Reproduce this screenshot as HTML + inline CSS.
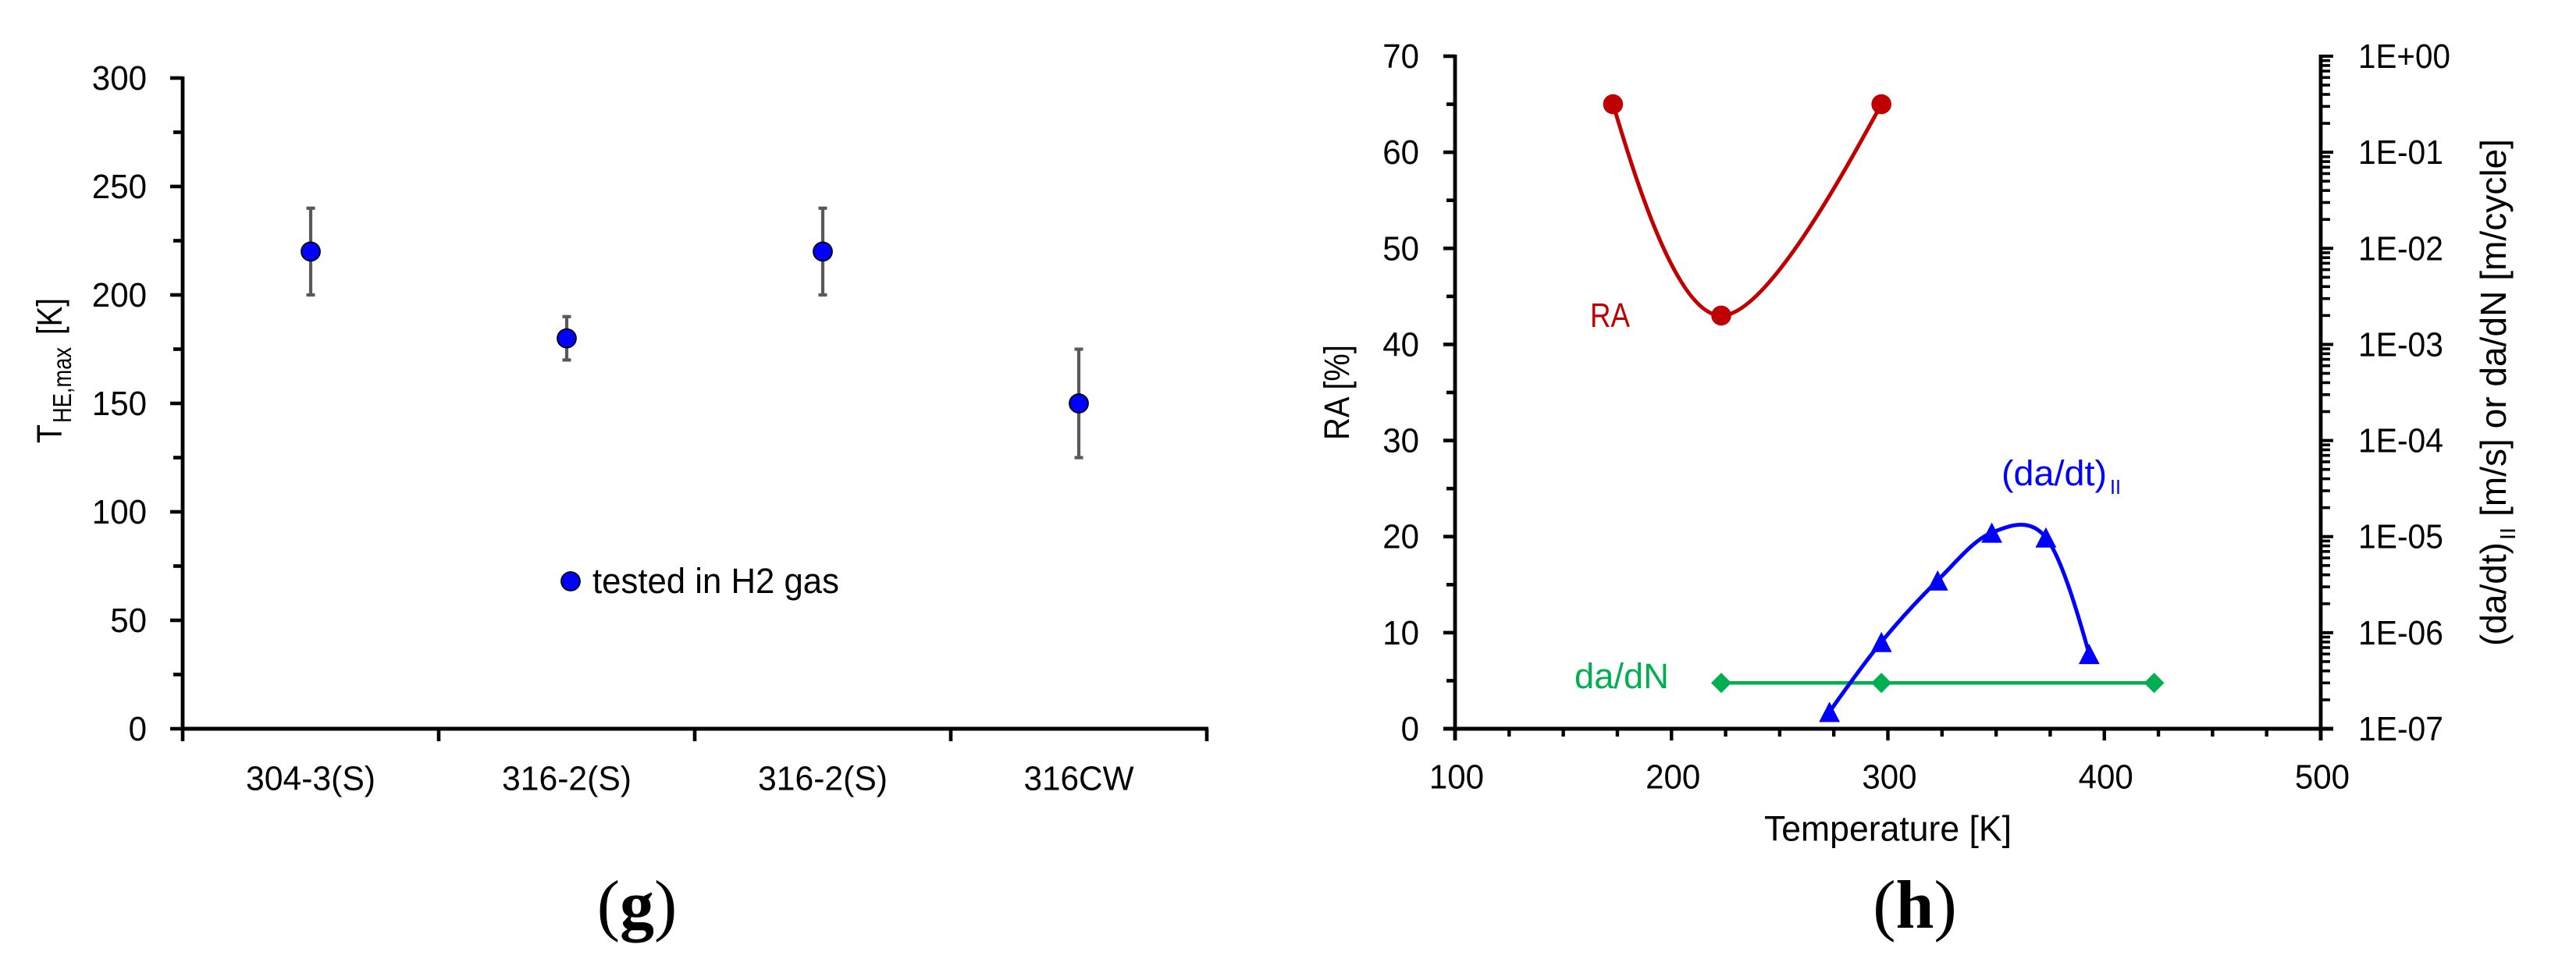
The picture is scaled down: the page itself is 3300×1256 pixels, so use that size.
<!DOCTYPE html>
<html lang="en">
<head>
<meta charset="utf-8">
<title>Panels g and h</title>
<style>
html,body{margin:0;padding:0;background:#fff;}
svg{display:block;font-family:"Liberation Sans",sans-serif;}
</style>
</head>
<body>
<svg id="fig" xmlns="http://www.w3.org/2000/svg" width="3300" height="1256" viewBox="0 0 3300 1256">
<rect x="0" y="0" width="3300" height="1256" fill="#ffffff"/>
<g id="panel-g"></g>
<g id="panel-h"></g>
<text x="816" y="1189" text-anchor="middle" font-family="'Liberation Serif',serif" font-size="88">(<tspan font-weight="bold">g</tspan>)</text>
<text x="2453" y="1189" text-anchor="middle" font-family="'Liberation Serif',serif" font-size="88">(<tspan font-weight="bold">h</tspan>)</text>
</svg>
<script>
/* Panel g data */
const gCategories = ['304-3(S)', '316-2(S)', '316-2(S)', '316CW'];
const gValues = [220, 180, 220, 150];
const gErrLow = [200, 170, 200, 125];
const gErrHigh = [240, 190, 240, 175];
const gYTicks = [0, 50, 100, 150, 200, 250, 300];
const gYMinorTicks = [25, 75, 125, 175, 225, 275];

/* Panel h data */
const hXTicks = [100, 200, 300, 400, 500];
const hXMinorTicks = [125, 150, 175, 225, 250, 275, 325, 350, 375, 425, 450, 475];
const hYTicks = [0, 10, 20, 30, 40, 50, 60, 70];
const hYMinorTicks = [5, 15, 25, 35, 45, 55, 65];
const hLogExponents = [0, -1, -2, -3, -4, -5, -6, -7];
const hLogLabels = ['1E+00', '1E-01', '1E-02', '1E-03', '1E-04', '1E-05', '1E-06', '1E-07'];
const hLogMinorMultipliers = [2, 3, 4, 5, 6, 7, 8, 9];
const raTemps = [173, 223, 297];
const raValues = [65, 43, 65];
const rateTemps = [273, 297, 323, 348, 373, 393];
const rateValues = [1.5e-7, 8e-7, 3.5e-6, 1.1e-5, 9.8e-6, 6e-7];
const dadnTemps = [223, 297, 423];
const dadnValues = [3e-7, 3e-7, 3e-7];

const NS = 'http://www.w3.org/2000/svg';
const panelG = document.getElementById('panel-g');
const panelH = document.getElementById('panel-h');
const DIGIT_W = 23.4;

function add(parent, tag, name, attrs) {
  const el = document.createElementNS(NS, tag);
  
  
  for (const k in attrs) el.setAttribute(k, attrs[k]);
  parent.appendChild(el);
  return el;
}
function seg(parent, name, x1, y1, x2, y2, color, w) {
  return add(parent, 'line', name, {x1: x1, y1: y1, x2: x2, y2: y2, stroke: color, 'stroke-width': w});
}
function label(parent, name, str, x, y, size, opts) {
  const o = opts || {};
  const a = {x: x, y: y, 'font-size': size, fill: o.fill || '#000', 'text-anchor': o.anchor || 'start'};
  if (o.length) { a.textLength = o.length; a.lengthAdjust = 'spacingAndGlyphs'; }
  if (o.rotate) a.transform = 'rotate(-90 ' + x + ' ' + y + ')';
  const el = add(parent, 'text', name, a);
  el.textContent = str;
  return el;
}
/* Excel-style smoothed line through pixel points */
function smoothPath(pts) {
  const n = pts.length;
  const tan = pts.map((p, i) => {
    if (i === 0 || i === n - 1) return null;
    return [(pts[i + 1][0] - pts[i - 1][0]) / 6, (pts[i + 1][1] - pts[i - 1][1]) / 6];
  });
  let d = 'M' + pts[0][0] + ' ' + pts[0][1];
  for (let i = 0; i < n - 1; i++) {
    const p = pts[i], q = pts[i + 1];
    let c1 = tan[i] ? [p[0] + tan[i][0], p[1] + tan[i][1]] : null;
    let c2 = tan[i + 1] ? [q[0] - tan[i + 1][0], q[1] - tan[i + 1][1]] : null;
    if (!c1 && c2) c1 = [p[0] + (c2[0] - p[0]) / 3, p[1] + (c2[1] - p[1]) / 3];
    if (!c2 && c1) c2 = [q[0] + (c1[0] - q[0]) / 3, q[1] + (c1[1] - q[1]) / 3];
    if (!c1 && !c2) { c1 = p; c2 = q; }
    d += ' C' + c1[0] + ' ' + c1[1] + ' ' + c2[0] + ' ' + c2[1] + ' ' + q[0] + ' ' + q[1];
  }
  return d;
}

/* ---------- Panel g ---------- */
const gLeft = 234, gBand = 328, gBase = 934, gUnit = 834 / 300;
const gX = i => gLeft + gBand * (i + 0.5);
const gXEdge = i => gLeft + gBand * i;
const gY = v => gBase - v * gUnit;

gYMinorTicks.forEach(v => seg(panelG, 'y-minor-tick', 222, gY(v), gLeft, gY(v), '#000', 4.6));
gYTicks.forEach(v => {
  seg(panelG, 'y-major-tick', 218, gY(v), gLeft, gY(v), '#000', 4.6);
  label(panelG, 'y-tick-label', String(v), 188, gY(v) + 15, 44, {anchor: 'end', length: String(v).length * DIGIT_W});
});
gCategories.forEach((c, i) => {
  seg(panelG, 'x-tick', gXEdge(i), gBase, gXEdge(i), 950, '#000', 4.6);
  label(panelG, 'x-category-label', c, gX(i), 1012.5, 44, {anchor: 'middle', length: c.length === 5 ? 141 : 166});
});
seg(panelG, 'x-tick', gXEdge(gCategories.length), gBase, gXEdge(gCategories.length), 950, '#000', 4.6);
seg(panelG, 'y-axis', gLeft, gY(300) - 2, gLeft, gBase + 2, '#000', 4.8);
seg(panelG, 'x-axis', gLeft, gBase, gXEdge(gCategories.length) + 2, gBase, '#000', 5);

gValues.forEach((v, i) => {
  const x = gX(i);
  seg(panelG, 'error-bar', x, gY(gErrLow[i]), x, gY(gErrHigh[i]), '#595959', 4.2);
  seg(panelG, 'error-cap-low', x - 5.5, gY(gErrLow[i]), x + 5.5, gY(gErrLow[i]), '#595959', 4.2);
  seg(panelG, 'error-cap-high', x - 5.5, gY(gErrHigh[i]), x + 5.5, gY(gErrHigh[i]), '#595959', 4.2);
});
gValues.forEach((v, i) => {
  add(panelG, 'circle', 'point-' + (i + 1), {cx: gX(i), cy: gY(v), r: 12, fill: '#0000FF', stroke: '#000', 'stroke-width': 1.8});
});

add(panelG, 'circle', 'legend-marker', {cx: 731, cy: 745, r: 12, fill: '#0000FF', stroke: '#000', 'stroke-width': 1.8});
label(panelG, 'legend-label', 'tested in H2 gas', 759, 760, 45, {length: 316});

label(panelG, 'y-axis-title-t', 'T', 79, 568, 45, {rotate: true, length: 24});
label(panelG, 'y-axis-title-subscript', 'HE,max', 91, 542, 33, {rotate: true, length: 97});
label(panelG, 'y-axis-title-unit', '[K]', 79, 429, 45, {rotate: true, length: 47});

/* ---------- Panel h ---------- */
const hLeft = 1864, hRight = 2973, hBase = 934, hTop = 72;
const hX = t => hLeft + (t - 100) * (hRight - hLeft) / 400;
const hY = v => hBase - v * (hBase - hTop) / 70;
const hLogY = v => hBase - (Math.log10(v) + 7) * (hBase - hTop) / 7;

hYMinorTicks.forEach(v => seg(panelH, 'left-y-minor-tick', 1853, hY(v), hLeft, hY(v), '#000', 4.6));
hYTicks.forEach(v => {
  seg(panelH, 'left-y-major-tick', 1849, hY(v), hLeft, hY(v), '#000', 4.6);
  label(panelH, 'left-y-tick-label', String(v), 1818, hY(v) + 15, 44, {anchor: 'end', length: String(v).length * DIGIT_W});
});
hXMinorTicks.forEach(t => seg(panelH, 'x-minor-tick', hX(t), hBase, hX(t), 944, '#000', 4.4));
hXTicks.forEach(t => {
  seg(panelH, 'x-major-tick', hX(t), hBase, hX(t), 949, '#000', 4.4);
  label(panelH, 'x-tick-label', String(t), hX(t) + 2, 1010.5, 44, {anchor: 'middle', length: String(t).length * DIGIT_W});
});
hLogExponents.forEach((e, i) => {
  const base = Math.pow(10, e);
  seg(panelH, 'right-y-major-tick', hRight, hLogY(base), 2989, hLogY(base), '#000', 4);
  label(panelH, 'right-y-tick-label', hLogLabels[i], 3021, hLogY(base) + 15, 44, {length: e === 0 ? 118 : 109});
  if (e > -7 ) {
    hLogMinorMultipliers.forEach(m => {
      const y = hLogY(base / 10 * m);
      seg(panelH, 'right-y-minor-tick', hRight, y, 2985, y, '#000', 3.6);
    });
  }
});
seg(panelH, 'left-y-axis', hLeft, hTop - 2, hLeft, 949, '#000', 4.8);
seg(panelH, 'right-y-axis', hRight, hTop - 2, hRight, 949, '#000', 4.8);
seg(panelH, 'x-axis', 1849, hBase, 2989, hBase, '#000', 5);

/* da/dN series */
const dadnPts = dadnTemps.map((t, i) => [hX(t), hLogY(dadnValues[i])]);
add(panelH, 'path', 'dadn-line', {d: smoothPath(dadnPts), fill: 'none', stroke: '#00B050', 'stroke-width': 4.6});
dadnPts.forEach(p => {
  add(panelH, 'polygon', 'dadn-point', {points: [[p[0] - 13, p[1]], [p[0], p[1] - 13], [p[0] + 13, p[1]], [p[0], p[1] + 13]].join(' '), fill: '#00B050'});
});

/* da/dt series */
const ratePts = rateTemps.map((t, i) => [hX(t), hLogY(rateValues[i])]);
add(panelH, 'path', 'dadt-line', {d: smoothPath(ratePts), fill: 'none', stroke: '#0000FF', 'stroke-width': 5});
ratePts.forEach(p => {
  add(panelH, 'polygon', 'dadt-point', {points: [[p[0] - 13.4, p[1] + 13], [p[0], p[1] - 13], [p[0] + 13.4, p[1] + 13]].join(' '), fill: '#0000FF'});
});

/* RA series */
const raPts = raTemps.map((t, i) => [hX(t), hY(raValues[i])]);
add(panelH, 'path', 'ra-line', {d: smoothPath(raPts), fill: 'none', stroke: '#C00000', 'stroke-width': 5});
raPts.forEach(p => {
  add(panelH, 'circle', 'ra-point', {cx: p[0], cy: p[1], r: 12.8, fill: '#C00000'});
});

/* Series labels */
label(panelH, 'ra-label', 'RA', 2037, 419, 44, {fill: '#C00000', length: 51});
label(panelH, 'dadn-label', 'da/dN', 2017, 882, 45, {fill: '#00B050', length: 121});
label(panelH, 'dadt-label', '(da/dt)', 2564, 622, 45, {fill: '#0000FF', length: 135});
label(panelH, 'dadt-label-subscript', 'II', 2703, 633, 26, {fill: '#0000FF', length: 14});

/* Axis titles */
label(panelH, 'x-axis-title', 'Temperature [K]', 2260, 1077.5, 45, {length: 317});
label(panelH, 'left-y-axis-title', 'RA [%]', 1728, 564, 45, {rotate: true, length: 122});
label(panelH, 'right-y-axis-title-rate', '(da/dt)', 3210, 828, 46, {rotate: true, length: 133});
label(panelH, 'right-y-axis-title-subscript', 'II', 3222, 692, 28, {rotate: true, length: 16});
label(panelH, 'right-y-axis-title-rest', '[m/s] or da/dN [m/cycle]', 3210, 662, 46, {rotate: true, length: 484});
</script>
</body>
</html>
